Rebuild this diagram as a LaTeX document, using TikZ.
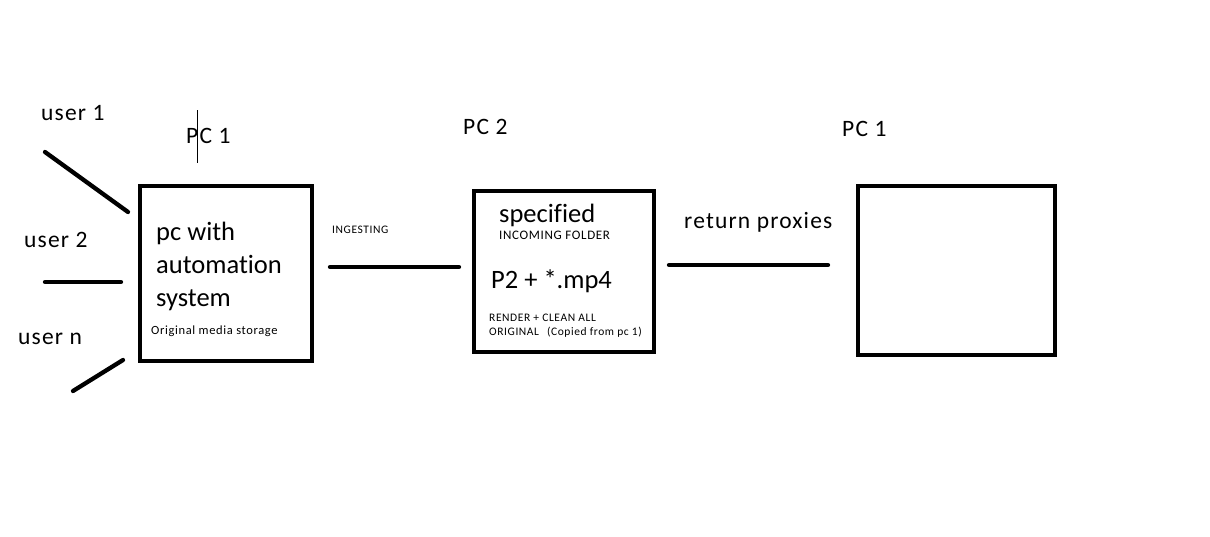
\documentclass[tikz,border=0pt]{standalone}
\usepackage{fontspec}
\setmainfont{Carlito}[RawFeature={-liga;-clig;-dlig}]
\newfontfamily\spaced{Carlito}[LetterSpace=5,RawFeature={-liga;-clig;-dlig}]
\begin{document}
\begin{tikzpicture}[x=1pt,y=-1pt,
  box/.style={draw,line width=4.8pt},
  wire/.style={line width=4.3pt,line cap=round},
  big/.style={font=\fontsize{26.5}{33}\selectfont,inner sep=0pt,anchor=west},
  mid/.style={font=\spaced\fontsize{23.5}{27}\selectfont,inner sep=0pt,anchor=west},
  tiny/.style={font=\spaced\fontsize{11.5}{14}\selectfont,inner sep=0pt,anchor=west}]
\useasboundingbox[fill=white] (0,0) rectangle (1210,536);
% boxes
\draw[box] (140,186) rectangle (312,361);
\draw[box] (474,191) rectangle (654,352);
\draw[box] (858,186) rectangle (1055,355);
% user lines
\coordinate (u1a) at (45,152); \coordinate (u1b) at (128,212);
\coordinate (u2a) at (45,282); \coordinate (u2b) at (121,282);
\coordinate (una) at (73,391); \coordinate (unb) at (123,360);
\draw[wire] (u1a) -- (u1b);
\draw[wire] (u2a) -- (u2b);
\draw[wire] (una) -- (unb);
% connectors
\coordinate (ia) at (330,267); \coordinate (ib) at (459,267);
\coordinate (ra) at (669,265); \coordinate (rb) at (828,265);
\draw[wire] (ia) -- (ib);
\draw[wire] (ra) -- (rb);
% cursor mark
\coordinate (ca) at (197.5,110); \coordinate (cb) at (197.5,163);
\draw[line width=1pt] (ca) -- (cb);
% labels
\node[mid] (lu1) at (41,113) {user 1};
\node[mid] (lu2) at (24,240) {user 2};
\node[mid] (lun) at (18,339) {user n};
\node[mid] (pc1) at (186,136) {PC 1};
\node[mid] (pc2) at (463,127) {PC 2};
\node[mid] (pc1b) at (842,129) {PC 1};
\node[tiny] (ing) at (332,230) {INGESTING};
\node[big,align=left] (sys) at (156,266) {pc with\\automat\kern0pt ion\\system};
\node[tiny,font=\spaced\fontsize{12.5}{14}\selectfont] (orig) at (151,331) {Original media storage};
\node[big] (spec) at (499,215) {specif\kern0pt ied};
\node[tiny,font=\spaced\fontsize{13}{15}\selectfont] (inc) at (499,235) {INCOMING FOLDER};
\node[big] (p2) at (491,281) {P2 + *.mp4};
\node[tiny] (rend) at (489,318) {RENDER + CLEAN ALL};
\node[tiny] (origb) at (489,332) {ORIGINAL\hspace{8pt}(Copied from pc 1)};
\node[mid] (ret) at (684,222) {return proxies};
\end{tikzpicture}
\end{document}
